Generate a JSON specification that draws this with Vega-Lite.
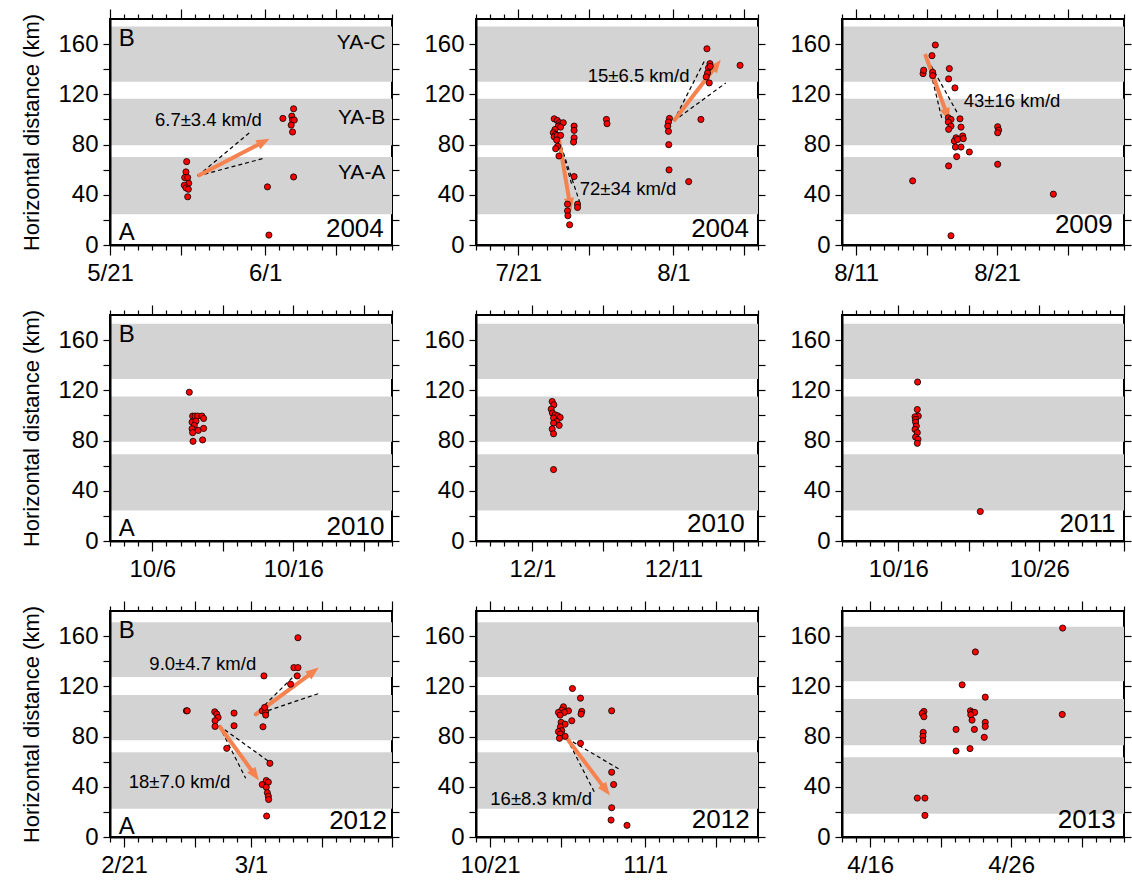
{
"$schema":"https://vega.github.io/schema/vega-lite/v6.json",
"padding":{"left":19,"top":7,"right":0,"bottom":0},
"columns":3,
"spacing":{"row":70,"column":84},
"bounds":"flush",
"config":{"view":{"stroke":"black","strokeWidth":2},"axis":{"labelFont":"Liberation Sans","labelFontSize":24,"labelColor":"black","titleFont":"Liberation Sans","titleFontSize":22,"titleFontWeight":"normal","titleColor":"black","tickColor":"#000000","tickWidth":1.2,"tickOpacity":1,"ticks":true,"domain":true,"domainColor":"black","domainWidth":2,"grid":false}},
"datasets":{
"bands":[
{"p":1,"lo":24.5,"hi":70},{"p":1,"lo":79.5,"hi":116.5},{"p":1,"lo":130,"hi":174},
{"p":2,"lo":24.5,"hi":70},{"p":2,"lo":79.5,"hi":116.5},{"p":2,"lo":130,"hi":174},
{"p":3,"lo":24.5,"hi":70},{"p":3,"lo":79.5,"hi":116.5},{"p":3,"lo":130,"hi":174},
{"p":4,"lo":24.3,"hi":69},{"p":4,"lo":79,"hi":115},{"p":4,"lo":129,"hi":173},
{"p":5,"lo":24.3,"hi":69},{"p":5,"lo":79,"hi":115},{"p":5,"lo":129,"hi":173},
{"p":6,"lo":24.3,"hi":69},{"p":6,"lo":79,"hi":115},{"p":6,"lo":129,"hi":173},
{"p":7,"lo":22.5,"hi":67.5},{"p":7,"lo":77,"hi":113},{"p":7,"lo":127.5,"hi":171},
{"p":8,"lo":22.5,"hi":67.5},{"p":8,"lo":77,"hi":113},{"p":8,"lo":127.5,"hi":171},
{"p":9,"lo":18.5,"hi":63.5},{"p":9,"lo":73,"hi":110},{"p":9,"lo":124,"hi":167.5}
],
"lines":[
{"p":1,"t1":"2004-05-27T05:20","d1":55,"t2":"2004-05-30T21:20","d2":89.4},
{"p":1,"t1":"2004-05-27T05:20","d1":55,"t2":"2004-05-31T21:20","d2":69},
{"p":2,"t1":"2004-07-23T21:10","d1":84.1,"t2":"2004-07-24T19:40","d2":47.1},
{"p":2,"t1":"2004-07-23T21:10","d1":84.1,"t2":"2004-07-25T08:40","d2":33.9},
{"p":2,"t1":"2004-08-01T00:30","d1":98.7,"t2":"2004-08-03T04:30","d2":146.3},
{"p":2,"t1":"2004-08-01T00:30","d1":98.7,"t2":"2004-08-04T17:15","d2":129.1},
{"p":3,"t1":"2009-08-16T01:55","d1":147.6,"t2":"2009-08-17T01:40","d2":101.3},
{"p":3,"t1":"2009-08-16T01:55","d1":147.6,"t2":"2009-08-18T04:50","d2":104.8},
{"p":7,"t1":"2012-03-01T06:15","d1":97.1,"t2":"2012-03-04T05:30","d2":130.2},
{"p":7,"t1":"2012-03-01T06:15","d1":97.1,"t2":"2012-03-05T19:25","d2":114.3},
{"p":7,"t1":"2012-02-27T17:45","d1":88.6,"t2":"2012-03-02T12:15","d2":58.2},
{"p":7,"t1":"2012-02-27T17:45","d1":88.6,"t2":"2012-02-29T14:55","d2":46.8},
{"p":8,"t1":"2012-10-26T10:35","d1":78.6,"t2":"2012-10-30T05:00","d2":53.7},
{"p":8,"t1":"2012-10-26T10:35","d1":78.6,"t2":"2012-10-28T09:35","d2":35.7}
],
"arrows":[
{"p":1,"id":"a","t1":"2004-05-27T05:20","d1":55,"t2":"2004-05-31T19:50","d2":81.8},
{"p":2,"id":"a","t1":"2004-07-23T21:10","d1":84.1,"t2":"2004-07-24T15:40","d2":33.1},
{"p":2,"id":"b","t1":"2004-08-01T00:30","d1":98.7,"t2":"2004-08-04T00:40","d2":142.6},
{"p":3,"id":"a","t1":"2009-08-15T21:20","d1":152.1,"t2":"2009-08-17T10:10","d2":104.5},
{"p":7,"id":"a","t1":"2012-03-01T06:15","d1":97.1,"t2":"2012-03-05T08:50","d2":131.2},
{"p":7,"id":"b","t1":"2012-02-27T17:45","d1":88.6,"t2":"2012-03-01T05:50","d2":50},
{"p":8,"id":"a","t1":"2012-10-26T10:35","d1":78.6,"t2":"2012-10-29T04:00","d2":38.1}
],
"labels":[
{"p":1,"kind":"year","t":"2004-06-09T10:00","d":12.7,"txt":"2004"},
{"p":2,"kind":"year","t":"2004-08-06T08:40","d":12.7,"txt":"2004"},
{"p":3,"kind":"year","t":"2009-08-29T04:50","d":16,"txt":"2009"},
{"p":4,"kind":"year","t":"2010-10-22T11:00","d":11,"txt":"2010"},
{"p":5,"kind":"year","t":"2010-12-16T01:30","d":13.2,"txt":"2010"},
{"p":6,"kind":"year","t":"2011-10-31T09:20","d":13.2,"txt":"2011"},
{"p":7,"kind":"year","t":"2012-03-10T15:30","d":12.7,"txt":"2012"},
{"p":8,"kind":"year","t":"2012-11-08T09:50","d":13.2,"txt":"2012"},
{"p":9,"kind":"year","t":"2013-05-03T09:50","d":13.2,"txt":"2013"},
{"p":1,"kind":"corner","t":"2004-05-21T15:00","d":164.3,"txt":"B"},
{"p":1,"kind":"corner","t":"2004-05-21T15:00","d":9.5,"txt":"A"},
{"p":4,"kind":"corner","t":"2010-10-03T15:00","d":164.1,"txt":"B"},
{"p":4,"kind":"corner","t":"2010-10-03T15:00","d":9.2,"txt":"A"},
{"p":7,"kind":"corner","t":"2012-02-20T15:00","d":164,"txt":"B"},
{"p":7,"kind":"corner","t":"2012-02-20T15:00","d":7.9,"txt":"A"},
{"p":1,"kind":"ya","t":"2004-06-09T12:45","d":160.8,"txt":"YA-C"},
{"p":1,"kind":"ya","t":"2004-06-09T12:45","d":101.3,"txt":"YA-B"},
{"p":1,"kind":"ya","t":"2004-06-09T12:45","d":57.7,"txt":"YA-A"},
{"p":1,"kind":"rate","t":"2004-05-27T23:30","d":99.5,"txt":"6.7±3.4 km/d"},
{"p":2,"kind":"rate","t":"2004-07-28T18:40","d":44.4,"txt":"72±34 km/d"},
{"p":2,"kind":"rate","t":"2004-07-29T12:45","d":134.4,"txt":"15±6.5 km/d"},
{"p":3,"kind":"rate","t":"2009-08-22T01:25","d":114.6,"txt":"43±16 km/d"},
{"p":7,"kind":"rate","t":"2012-02-26T13:55","d":138.1,"txt":"9.0±4.7 km/d"},
{"p":7,"kind":"rate","t":"2012-02-24T22:20","d":43.7,"txt":"18±7.0 km/d"},
{"p":8,"kind":"rate","t":"2012-10-24T14:55","d":30.4,"txt":"16±8.3 km/d"}
],
"pts":[
{"p":1,"t":"2004-05-26T10:30","d":66.4},{"p":1,"t":"2004-05-26T09:20","d":58.2},{"p":1,"t":"2004-05-26T07:10","d":53.7},{"p":1,"t":"2004-05-26T12:15","d":53.7},{"p":1,"t":"2004-05-26T14:00","d":49.2},{"p":1,"t":"2004-05-26T06:30","d":47.6},{"p":1,"t":"2004-05-26T09:20","d":45.5},{"p":1,"t":"2004-05-26T13:20","d":44.4},{"p":1,"t":"2004-05-26T12:15","d":38.4},{"p":1,"t":"2004-06-01T04:00","d":46.3},{"p":1,"t":"2004-06-01T06:30","d":7.9},{"p":1,"t":"2004-06-02T06:15","d":100.8},{"p":1,"t":"2004-06-03T00:30","d":108.5},{"p":1,"t":"2004-06-02T21:30","d":102.6},{"p":1,"t":"2004-06-02T22:45","d":99.5},{"p":1,"t":"2004-06-03T01:40","d":99.5},{"p":1,"t":"2004-06-02T20:25","d":95.5},{"p":1,"t":"2004-06-02T22:45","d":90},{"p":1,"t":"2004-06-03T00:30","d":54.2},
{"p":2,"t":"2004-07-23T13:10","d":100.5},{"p":2,"t":"2004-07-23T18:15","d":99.2},{"p":2,"t":"2004-07-23T21:50","d":97.4},{"p":2,"t":"2004-07-24T00:30","d":96},{"p":2,"t":"2004-07-24T04:30","d":97.4},{"p":2,"t":"2004-07-23T20:10","d":94.7},{"p":2,"t":"2004-07-24T00:00","d":93.9},{"p":2,"t":"2004-07-23T14:25","d":92},{"p":2,"t":"2004-07-23T11:30","d":89.4},{"p":2,"t":"2004-07-23T15:35","d":88.1},{"p":2,"t":"2004-07-23T13:10","d":86.2},{"p":2,"t":"2004-07-23T18:15","d":87.3},{"p":2,"t":"2004-07-24T00:00","d":87.3},{"p":2,"t":"2004-07-23T17:15","d":83.6},{"p":2,"t":"2004-07-23T19:00","d":78.6},{"p":2,"t":"2004-07-23T15:35","d":76.7},{"p":2,"t":"2004-07-23T21:10","d":70.9},{"p":2,"t":"2004-07-24T23:00","d":94.7},{"p":2,"t":"2004-07-24T23:00","d":91.3},{"p":2,"t":"2004-07-24T23:00","d":85.4},{"p":2,"t":"2004-07-24T22:05","d":82},{"p":2,"t":"2004-07-24T23:00","d":54.5},{"p":2,"t":"2004-07-24T11:45","d":32.5},{"p":2,"t":"2004-07-24T11:45","d":27.2},{"p":2,"t":"2004-07-24T12:25","d":23.3},{"p":2,"t":"2004-07-24T15:20","d":16.1},{"p":2,"t":"2004-07-25T04:50","d":32.5},{"p":2,"t":"2004-07-25T04:50","d":29.9},{"p":2,"t":"2004-07-27T06:00","d":100},{"p":2,"t":"2004-07-27T07:00","d":96.6},{"p":2,"t":"2004-07-31T17:15","d":100.8},{"p":2,"t":"2004-07-31T15:35","d":97.9},{"p":2,"t":"2004-07-31T14:25","d":94.7},{"p":2,"t":"2004-07-31T15:35","d":90.5},{"p":2,"t":"2004-07-31T16:05","d":79.9},{"p":2,"t":"2004-07-31T16:35","d":59.8},{"p":2,"t":"2004-08-02T02:00","d":50.5},{"p":2,"t":"2004-08-02T22:50","d":100},{"p":2,"t":"2004-08-03T09:05","d":156.3},{"p":2,"t":"2004-08-03T14:10","d":144.4},{"p":2,"t":"2004-08-03T11:45","d":141},{"p":2,"t":"2004-08-03T10:05","d":137},{"p":2,"t":"2004-08-03T07:55","d":133.9},{"p":2,"t":"2004-08-03T13:00","d":129.1},{"p":2,"t":"2004-08-03T14:40","d":142.3},{"p":2,"t":"2004-08-05T17:30","d":143.1},
{"p":3,"t":"2009-08-15T00:15","d":51.1},{"p":3,"t":"2009-08-15T18:00","d":136.5},{"p":3,"t":"2009-08-15T19:00","d":139.2},{"p":3,"t":"2009-08-16T09:10","d":150.8},{"p":3,"t":"2009-08-16T14:50","d":159.3},{"p":3,"t":"2009-08-16T10:20","d":137.6},{"p":3,"t":"2009-08-16T10:20","d":134.9},{"p":3,"t":"2009-08-17T14:40","d":140.5},{"p":3,"t":"2009-08-17T13:30","d":132.3},{"p":3,"t":"2009-08-18T00:15","d":125.1},{"p":3,"t":"2009-08-17T13:00","d":101.3},{"p":3,"t":"2009-08-17T17:30","d":100},{"p":3,"t":"2009-08-17T13:00","d":97.9},{"p":3,"t":"2009-08-17T17:30","d":94.7},{"p":3,"t":"2009-08-17T13:30","d":92.1},{"p":3,"t":"2009-08-18T08:50","d":100.5},{"p":3,"t":"2009-08-18T10:35","d":93.9},{"p":3,"t":"2009-08-18T02:10","d":85.4},{"p":3,"t":"2009-08-17T23:15","d":82.8},{"p":3,"t":"2009-08-18T04:50","d":84.1},{"p":3,"t":"2009-08-18T13:25","d":86.8},{"p":3,"t":"2009-08-18T14:25","d":84.7},{"p":3,"t":"2009-08-18T01:00","d":78},{"p":3,"t":"2009-08-18T10:35","d":78},{"p":3,"t":"2009-08-18T03:10","d":70.4},{"p":3,"t":"2009-08-19T00:45","d":74.1},{"p":3,"t":"2009-08-17T13:30","d":63},{"p":3,"t":"2009-08-17T17:30","d":7.4},{"p":3,"t":"2009-08-21T01:00","d":94.2},{"p":3,"t":"2009-08-21T02:40","d":91.5},{"p":3,"t":"2009-08-21T01:00","d":89.4},{"p":3,"t":"2009-08-21T01:00","d":64.3},{"p":3,"t":"2009-08-24T23:45","d":40.5},
{"p":4,"t":"2010-10-08T15:00","d":118.5},{"p":4,"t":"2010-10-08T20:40","d":99.5},{"p":4,"t":"2010-10-09T00:45","d":99.5},{"p":4,"t":"2010-10-09T05:15","d":99.5},{"p":4,"t":"2010-10-09T12:30","d":99.5},{"p":4,"t":"2010-10-09T15:20","d":97.6},{"p":4,"t":"2010-10-08T19:40","d":94.7},{"p":4,"t":"2010-10-09T02:25","d":95.5},{"p":4,"t":"2010-10-08T23:30","d":92.1},{"p":4,"t":"2010-10-08T19:40","d":89.4},{"p":4,"t":"2010-10-09T06:15","d":88.1},{"p":4,"t":"2010-10-09T15:20","d":89.7},{"p":4,"t":"2010-10-08T20:40","d":86.3},{"p":4,"t":"2010-10-08T21:20","d":79.4},{"p":4,"t":"2010-10-09T13:40","d":80.5},
{"p":5,"t":"2010-12-02T09:40","d":111.1},{"p":5,"t":"2010-12-02T12:30","d":108.5},{"p":5,"t":"2010-12-02T08:00","d":105},{"p":5,"t":"2010-12-02T10:00","d":101.9},{"p":5,"t":"2010-12-02T14:40","d":100.5},{"p":5,"t":"2010-12-02T19:15","d":99.7},{"p":5,"t":"2010-12-02T23:15","d":98.4},{"p":5,"t":"2010-12-02T12:00","d":97.9},{"p":5,"t":"2010-12-02T17:30","d":95.2},{"p":5,"t":"2010-12-02T12:00","d":93.9},{"p":5,"t":"2010-12-02T21:35","d":92.1},{"p":5,"t":"2010-12-02T09:40","d":89.2},{"p":5,"t":"2010-12-02T12:00","d":85.4},{"p":5,"t":"2010-12-02T12:00","d":56.9},
{"p":6,"t":"2011-10-17T08:40","d":126.6},{"p":6,"t":"2011-10-17T08:10","d":104.7},{"p":6,"t":"2011-10-17T09:50","d":99.5},{"p":6,"t":"2011-10-17T04:20","d":98.9},{"p":6,"t":"2011-10-17T05:00","d":96.8},{"p":6,"t":"2011-10-17T05:15","d":94.7},{"p":6,"t":"2011-10-17T06:30","d":91.6},{"p":6,"t":"2011-10-17T04:20","d":88.9},{"p":6,"t":"2011-10-17T08:10","d":86.3},{"p":6,"t":"2011-10-17T05:15","d":82.8},{"p":6,"t":"2011-10-17T09:20","d":81},{"p":6,"t":"2011-10-17T08:10","d":77.8},{"p":6,"t":"2011-10-21T19:25","d":23.5},
{"p":7,"t":"2012-02-25T10:00","d":100.5},{"p":7,"t":"2012-02-25T11:30","d":100.5},{"p":7,"t":"2012-02-27T10:20","d":99.7},{"p":7,"t":"2012-02-27T13:40","d":97.9},{"p":7,"t":"2012-02-27T16:00","d":95.2},{"p":7,"t":"2012-02-27T10:50","d":92.6},{"p":7,"t":"2012-02-27T10:50","d":88.1},{"p":7,"t":"2012-02-28T19:10","d":98.7},{"p":7,"t":"2012-02-28T19:10","d":88.6},{"p":7,"t":"2012-02-28T06:40","d":70.6},{"p":7,"t":"2012-03-01T22:05","d":128.3},{"p":7,"t":"2012-03-01T19:10","d":100.5},{"p":7,"t":"2012-03-02T01:00","d":99.7},{"p":7,"t":"2012-03-01T23:15","d":103.2},{"p":7,"t":"2012-03-02T01:00","d":97.1},{"p":7,"t":"2012-03-01T20:25","d":87.8},{"p":7,"t":"2012-03-02T08:10","d":58.7},{"p":7,"t":"2012-03-01T19:10","d":41.8},{"p":7,"t":"2012-03-02T02:00","d":45},{"p":7,"t":"2012-03-02T05:30","d":43.7},{"p":7,"t":"2012-03-02T02:00","d":39.7},{"p":7,"t":"2012-03-02T03:50","d":35.2},{"p":7,"t":"2012-03-02T05:30","d":32.5},{"p":7,"t":"2012-03-02T06:00","d":29.9},{"p":7,"t":"2012-03-02T02:40","d":16.7},{"p":7,"t":"2012-03-03T19:25","d":121.7},{"p":7,"t":"2012-03-04T01:00","d":134.9},{"p":7,"t":"2012-03-04T07:55","d":134.9},{"p":7,"t":"2012-03-04T06:40","d":128.3},{"p":7,"t":"2012-03-04T07:55","d":158.7},
{"p":8,"t":"2012-10-26T20:10","d":118.3},{"p":8,"t":"2012-10-27T09:50","d":110.6},{"p":8,"t":"2012-10-26T04:50","d":103.7},{"p":8,"t":"2012-10-26T02:00","d":101.1},{"p":8,"t":"2012-10-26T13:25","d":100.5},{"p":8,"t":"2012-10-25T20:25","d":99.2},{"p":8,"t":"2012-10-26T06:30","d":99.2},{"p":8,"t":"2012-10-25T23:15","d":97.1},{"p":8,"t":"2012-10-27T12:00","d":100},{"p":8,"t":"2012-10-27T10:50","d":97.9},{"p":8,"t":"2012-10-29T14:55","d":100.5},{"p":8,"t":"2012-10-26T19:00","d":92.6},{"p":8,"t":"2012-10-26T00:55","d":91.3},{"p":8,"t":"2012-10-26T07:40","d":89.9},{"p":8,"t":"2012-10-25T23:45","d":87.8},{"p":8,"t":"2012-10-26T02:00","d":84.7},{"p":8,"t":"2012-10-25T20:25","d":83.9},{"p":8,"t":"2012-10-25T23:45","d":82},{"p":8,"t":"2012-10-26T07:40","d":80.2},{"p":8,"t":"2012-10-25T22:05","d":78.6},{"p":8,"t":"2012-10-27T09:50","d":74.6},{"p":8,"t":"2012-10-29T14:55","d":51.6},{"p":8,"t":"2012-10-29T18:15","d":41.8},{"p":8,"t":"2012-10-29T14:55","d":23.3},{"p":8,"t":"2012-10-29T13:55","d":13.5},{"p":8,"t":"2012-10-30T17:00","d":9.3},
{"p":9,"t":"2013-04-29T15:35","d":166.4},{"p":9,"t":"2013-04-23T11:00","d":147.4},{"p":9,"t":"2013-04-22T12:30","d":121.2},{"p":9,"t":"2013-04-24T03:50","d":111.4},{"p":9,"t":"2013-04-19T19:25","d":100},{"p":9,"t":"2013-04-19T16:35","d":98.4},{"p":9,"t":"2013-04-19T19:25","d":95.8},{"p":9,"t":"2013-04-19T18:15","d":83.3},{"p":9,"t":"2013-04-19T17:45","d":80.2},{"p":9,"t":"2013-04-19T17:45","d":76.7},{"p":9,"t":"2013-04-23T02:40","d":100.5},{"p":9,"t":"2013-04-23T05:20","d":99.2},{"p":9,"t":"2013-04-23T09:50","d":99.2},{"p":9,"t":"2013-04-23T03:10","d":97.4},{"p":9,"t":"2013-04-23T05:20","d":93.1},{"p":9,"t":"2013-04-23T09:20","d":85.7},{"p":9,"t":"2013-04-22T02:10","d":85.7},{"p":9,"t":"2013-04-24T03:50","d":91.3},{"p":9,"t":"2013-04-24T03:50","d":88.1},{"p":9,"t":"2013-04-24T02:10","d":79.4},{"p":9,"t":"2013-04-22T02:10","d":68.5},{"p":9,"t":"2013-04-23T01:55","d":70.4},{"p":9,"t":"2013-04-29T14:55","d":97.6},{"p":9,"t":"2013-04-19T08:10","d":31},{"p":9,"t":"2013-04-19T21:10","d":31},{"p":9,"t":"2013-04-19T21:10","d":17.2}
]
},
"concat":[
{"width":282,"height":226,"resolve":{"axis":{"x":"independent","y":"independent"}},"layer":[
{"data":{"name":"bands"},"transform":[{"filter":"datum.p==1"}],"mark":{"type":"rect","color":"#d3d3d3"},"encoding":{"y":{"field":"lo","type":"quantitative","scale":{"domain":[0,180],"nice":false,"zero":false},"axis":{"orient":"left","title":"Horizontal distance (km)","titlePadding":14,"values":[0,20,40,60,80,100,120,140,160],"labelExpr":"datum.value % 40 == 0 ? datum.label : ''","ticks":true,"tickSize":7,"tickColor":"black","labelPadding":5,"labelFlush":false,"zindex":1}},"y2":{"field":"hi"}}},
{"data":{"name":"lines"},"transform":[{"filter":"datum.p==1"}],"mark":{"type":"rule","color":"black","strokeWidth":1.2,"strokeDash":[4,3]},"encoding":{"x":{"field":"t1","type":"temporal","axis":null},"y":{"field":"d1","type":"quantitative","axis":null},"x2":{"field":"t2"},"y2":{"field":"d2"}}},
{"data":{"name":"arrows"},"transform":[{"filter":"datum.p==1"}],"mark":{"type":"rule","color":"#f5824f","strokeWidth":4},"encoding":{"x":{"field":"t1","type":"temporal","axis":null},"y":{"field":"d1","type":"quantitative","axis":null},"x2":{"field":"t2"},"y2":{"field":"d2"}}},
{"data":{"name":"arrows"},"transform":[{"filter":"datum.p==1"}],"mark":{"type":"point","shape":"M0,-1.3L0.85,0.9L-0.85,0.9Z","filled":true,"fill":"#f5824f","strokeWidth":0,"size":144,"opacity":1},"encoding":{"x":{"field":"t2","type":"temporal","axis":null},"y":{"field":"d2","type":"quantitative","axis":null},"angle":{"value":62}}},
{"data":{"name":"pts"},"transform":[{"filter":"datum.p==1"}],"mark":{"type":"point","shape":"circle","filled":true,"fill":"#ff0000","stroke":"black","strokeWidth":0.8,"size":38,"opacity":1},"encoding":{"x":{"field":"t","type":"temporal","scale":{"domain":[{"year":2004,"month":5,"date":21},{"year":2004,"month":6,"date":10}],"nice":false},"axis":{"orient":"bottom","title":null,"tickCount":"day","labelExpr":"indexof([1,11,21], date(datum.value)) >= 0 ? timeFormat(datum.value, '%-m/%-d') : ''","ticks":true,"tickColor":"black","tickSize":{"condition":{"test":"indexof([1,6,11,16,21,26], date(datum.value)) >= 0","value":10},"value":5},"labelPadding":6,"labelFlush":false,"labelOverlap":false,"zindex":1}},"y":{"field":"d","type":"quantitative","axis":{"orient":"right","title":null,"values":[0,20,40,60,80,100,120,140,160],"labels":false,"ticks":true,"tickSize":7,"tickColor":"black","domain":false,"zindex":1}}}},
{"data":{"name":"labels"},"transform":[{"filter":"datum.p==1 && datum.kind=='year'"}],"mark":{"type":"text","align":"right","baseline":"middle","font":"Liberation Sans","fontSize":26,"color":"black"},"encoding":{"x":{"field":"t","type":"temporal","axis":{"orient":"top","title":null,"tickCount":"day","labels":false,"ticks":true,"tickColor":"black","tickSize":{"condition":{"test":"indexof([1,6,11,16,21,26], date(datum.value)) >= 0","value":10},"value":5},"domain":false,"zindex":1}},"y":{"field":"d","type":"quantitative","axis":null},"text":{"field":"txt"}}},
{"data":{"name":"labels"},"transform":[{"filter":"datum.p==1 && datum.kind=='corner'"}],"mark":{"type":"text","align":"left","baseline":"middle","font":"Liberation Sans","fontSize":24,"color":"black"},"encoding":{"x":{"field":"t","type":"temporal","axis":null},"y":{"field":"d","type":"quantitative","axis":null},"text":{"field":"txt"}}},
{"data":{"name":"labels"},"transform":[{"filter":"datum.p==1 && datum.kind=='ya'"}],"mark":{"type":"text","align":"right","baseline":"middle","font":"Liberation Sans","fontSize":21,"color":"black"},"encoding":{"x":{"field":"t","type":"temporal","axis":null},"y":{"field":"d","type":"quantitative","axis":null},"text":{"field":"txt"}}},
{"data":{"name":"labels"},"transform":[{"filter":"datum.p==1 && datum.kind=='rate'"}],"mark":{"type":"text","align":"center","baseline":"middle","font":"Liberation Sans","fontSize":18.5,"color":"black"},"encoding":{"x":{"field":"t","type":"temporal","axis":null},"y":{"field":"d","type":"quantitative","axis":null},"text":{"field":"txt"}}}
]},
{"width":282,"height":226,"resolve":{"axis":{"x":"independent","y":"independent"}},"layer":[
{"data":{"name":"bands"},"transform":[{"filter":"datum.p==2"}],"mark":{"type":"rect","color":"#d3d3d3"},"encoding":{"y":{"field":"lo","type":"quantitative","scale":{"domain":[0,180],"nice":false,"zero":false},"axis":{"orient":"left","title":null,"values":[0,20,40,60,80,100,120,140,160],"labelExpr":"datum.value % 40 == 0 ? datum.label : ''","ticks":true,"tickSize":7,"tickColor":"black","labelPadding":5,"labelFlush":false,"zindex":1}},"y2":{"field":"hi"}}},
{"data":{"name":"lines"},"transform":[{"filter":"datum.p==2"}],"mark":{"type":"rule","color":"black","strokeWidth":1.2,"strokeDash":[4,3]},"encoding":{"x":{"field":"t1","type":"temporal","axis":null},"y":{"field":"d1","type":"quantitative","axis":null},"x2":{"field":"t2"},"y2":{"field":"d2"}}},
{"data":{"name":"arrows"},"transform":[{"filter":"datum.p==2"}],"mark":{"type":"rule","color":"#f5824f","strokeWidth":4},"encoding":{"x":{"field":"t1","type":"temporal","axis":null},"y":{"field":"d1","type":"quantitative","axis":null},"x2":{"field":"t2"},"y2":{"field":"d2"}}},
{"data":{"name":"arrows"},"transform":[{"filter":"datum.p==2"}],"mark":{"type":"point","shape":"M0,-1.3L0.85,0.9L-0.85,0.9Z","filled":true,"fill":"#f5824f","strokeWidth":0,"size":144,"opacity":1},"encoding":{"x":{"field":"t2","type":"temporal","axis":null},"y":{"field":"d2","type":"quantitative","axis":null},"angle":{"condition":{"test":"datum.id=='a'","value":170},"value":37}}},
{"data":{"name":"pts"},"transform":[{"filter":"datum.p==2"}],"mark":{"type":"point","shape":"circle","filled":true,"fill":"#ff0000","stroke":"black","strokeWidth":0.8,"size":38,"opacity":1},"encoding":{"x":{"field":"t","type":"temporal","scale":{"domain":[{"year":2004,"month":7,"date":18},{"year":2004,"month":8,"date":7}],"nice":false},"axis":{"orient":"bottom","title":null,"tickCount":"day","labelExpr":"indexof([1,11,21], date(datum.value)) >= 0 ? timeFormat(datum.value, '%-m/%-d') : ''","ticks":true,"tickColor":"black","tickSize":{"condition":{"test":"indexof([1,6,11,16,21,26], date(datum.value)) >= 0","value":10},"value":5},"labelPadding":6,"labelFlush":false,"labelOverlap":false,"zindex":1}},"y":{"field":"d","type":"quantitative","axis":{"orient":"right","title":null,"values":[0,20,40,60,80,100,120,140,160],"labels":false,"ticks":true,"tickSize":7,"tickColor":"black","domain":false,"zindex":1}}}},
{"data":{"name":"labels"},"transform":[{"filter":"datum.p==2 && datum.kind=='year'"}],"mark":{"type":"text","align":"right","baseline":"middle","font":"Liberation Sans","fontSize":26,"color":"black"},"encoding":{"x":{"field":"t","type":"temporal","axis":{"orient":"top","title":null,"tickCount":"day","labels":false,"ticks":true,"tickColor":"black","tickSize":{"condition":{"test":"indexof([1,6,11,16,21,26], date(datum.value)) >= 0","value":10},"value":5},"domain":false,"zindex":1}},"y":{"field":"d","type":"quantitative","axis":null},"text":{"field":"txt"}}},
{"data":{"name":"labels"},"transform":[{"filter":"datum.p==2 && datum.kind=='rate'"}],"mark":{"type":"text","align":"center","baseline":"middle","font":"Liberation Sans","fontSize":18.5,"color":"black"},"encoding":{"x":{"field":"t","type":"temporal","axis":null},"y":{"field":"d","type":"quantitative","axis":null},"text":{"field":"txt"}}}
]},
{"width":282,"height":226,"resolve":{"axis":{"x":"independent","y":"independent"}},"layer":[
{"data":{"name":"bands"},"transform":[{"filter":"datum.p==3"}],"mark":{"type":"rect","color":"#d3d3d3"},"encoding":{"y":{"field":"lo","type":"quantitative","scale":{"domain":[0,180],"nice":false,"zero":false},"axis":{"orient":"left","title":null,"values":[0,20,40,60,80,100,120,140,160],"labelExpr":"datum.value % 40 == 0 ? datum.label : ''","ticks":true,"tickSize":7,"tickColor":"black","labelPadding":5,"labelFlush":false,"zindex":1}},"y2":{"field":"hi"}}},
{"data":{"name":"lines"},"transform":[{"filter":"datum.p==3"}],"mark":{"type":"rule","color":"black","strokeWidth":1.2,"strokeDash":[4,3]},"encoding":{"x":{"field":"t1","type":"temporal","axis":null},"y":{"field":"d1","type":"quantitative","axis":null},"x2":{"field":"t2"},"y2":{"field":"d2"}}},
{"data":{"name":"arrows"},"transform":[{"filter":"datum.p==3"}],"mark":{"type":"rule","color":"#f5824f","strokeWidth":4},"encoding":{"x":{"field":"t1","type":"temporal","axis":null},"y":{"field":"d1","type":"quantitative","axis":null},"x2":{"field":"t2"},"y2":{"field":"d2"}}},
{"data":{"name":"arrows"},"transform":[{"filter":"datum.p==3"}],"mark":{"type":"point","shape":"M0,-1.3L0.85,0.9L-0.85,0.9Z","filled":true,"fill":"#f5824f","strokeWidth":0,"size":144,"opacity":1},"encoding":{"x":{"field":"t2","type":"temporal","axis":null},"y":{"field":"d2","type":"quantitative","axis":null},"angle":{"value":160}}},
{"data":{"name":"pts"},"transform":[{"filter":"datum.p==3"}],"mark":{"type":"point","shape":"circle","filled":true,"fill":"#ff0000","stroke":"black","strokeWidth":0.8,"size":38,"opacity":1},"encoding":{"x":{"field":"t","type":"temporal","scale":{"domain":[{"year":2009,"month":8,"date":10},{"year":2009,"month":8,"date":30}],"nice":false},"axis":{"orient":"bottom","title":null,"tickCount":"day","labelExpr":"indexof([1,11,21], date(datum.value)) >= 0 ? timeFormat(datum.value, '%-m/%-d') : ''","ticks":true,"tickColor":"black","tickSize":{"condition":{"test":"indexof([1,6,11,16,21,26], date(datum.value)) >= 0","value":10},"value":5},"labelPadding":6,"labelFlush":false,"labelOverlap":false,"zindex":1}},"y":{"field":"d","type":"quantitative","axis":{"orient":"right","title":null,"values":[0,20,40,60,80,100,120,140,160],"labels":false,"ticks":true,"tickSize":7,"tickColor":"black","domain":false,"zindex":1}}}},
{"data":{"name":"labels"},"transform":[{"filter":"datum.p==3 && datum.kind=='year'"}],"mark":{"type":"text","align":"right","baseline":"middle","font":"Liberation Sans","fontSize":26,"color":"black"},"encoding":{"x":{"field":"t","type":"temporal","axis":{"orient":"top","title":null,"tickCount":"day","labels":false,"ticks":true,"tickColor":"black","tickSize":{"condition":{"test":"indexof([1,6,11,16,21,26], date(datum.value)) >= 0","value":10},"value":5},"domain":false,"zindex":1}},"y":{"field":"d","type":"quantitative","axis":null},"text":{"field":"txt"}}},
{"data":{"name":"labels"},"transform":[{"filter":"datum.p==3 && datum.kind=='rate'"}],"mark":{"type":"text","align":"center","baseline":"middle","font":"Liberation Sans","fontSize":18.5,"color":"black"},"encoding":{"x":{"field":"t","type":"temporal","axis":null},"y":{"field":"d","type":"quantitative","axis":null},"text":{"field":"txt"}}}
]},
{"width":282,"height":226,"resolve":{"axis":{"x":"independent","y":"independent"}},"layer":[
{"data":{"name":"bands"},"transform":[{"filter":"datum.p==4"}],"mark":{"type":"rect","color":"#d3d3d3"},"encoding":{"y":{"field":"lo","type":"quantitative","scale":{"domain":[0,180],"nice":false,"zero":false},"axis":{"orient":"left","title":"Horizontal distance (km)","titlePadding":14,"values":[0,20,40,60,80,100,120,140,160],"labelExpr":"datum.value % 40 == 0 ? datum.label : ''","ticks":true,"tickSize":7,"tickColor":"black","labelPadding":5,"labelFlush":false,"zindex":1}},"y2":{"field":"hi"}}},
{"data":{"name":"pts"},"transform":[{"filter":"datum.p==4"}],"mark":{"type":"point","shape":"circle","filled":true,"fill":"#ff0000","stroke":"black","strokeWidth":0.8,"size":38,"opacity":1},"encoding":{"x":{"field":"t","type":"temporal","scale":{"domain":[{"year":2010,"month":10,"date":3},{"year":2010,"month":10,"date":23}],"nice":false},"axis":{"orient":"bottom","title":null,"tickCount":"day","labelExpr":"indexof([6,16,26], date(datum.value)) >= 0 ? timeFormat(datum.value, '%-m/%-d') : ''","ticks":true,"tickColor":"black","tickSize":{"condition":{"test":"indexof([1,6,11,16,21,26], date(datum.value)) >= 0","value":10},"value":5},"labelPadding":6,"labelFlush":false,"labelOverlap":false,"zindex":1}},"y":{"field":"d","type":"quantitative","axis":{"orient":"right","title":null,"values":[0,20,40,60,80,100,120,140,160],"labels":false,"ticks":true,"tickSize":7,"tickColor":"black","domain":false,"zindex":1}}}},
{"data":{"name":"labels"},"transform":[{"filter":"datum.p==4 && datum.kind=='year'"}],"mark":{"type":"text","align":"right","baseline":"middle","font":"Liberation Sans","fontSize":26,"color":"black"},"encoding":{"x":{"field":"t","type":"temporal","axis":{"orient":"top","title":null,"tickCount":"day","labels":false,"ticks":true,"tickColor":"black","tickSize":{"condition":{"test":"indexof([1,6,11,16,21,26], date(datum.value)) >= 0","value":10},"value":5},"domain":false,"zindex":1}},"y":{"field":"d","type":"quantitative","axis":null},"text":{"field":"txt"}}},
{"data":{"name":"labels"},"transform":[{"filter":"datum.p==4 && datum.kind=='corner'"}],"mark":{"type":"text","align":"left","baseline":"middle","font":"Liberation Sans","fontSize":24,"color":"black"},"encoding":{"x":{"field":"t","type":"temporal","axis":null},"y":{"field":"d","type":"quantitative","axis":null},"text":{"field":"txt"}}}
]},
{"width":282,"height":226,"resolve":{"axis":{"x":"independent","y":"independent"}},"layer":[
{"data":{"name":"bands"},"transform":[{"filter":"datum.p==5"}],"mark":{"type":"rect","color":"#d3d3d3"},"encoding":{"y":{"field":"lo","type":"quantitative","scale":{"domain":[0,180],"nice":false,"zero":false},"axis":{"orient":"left","title":null,"values":[0,20,40,60,80,100,120,140,160],"labelExpr":"datum.value % 40 == 0 ? datum.label : ''","ticks":true,"tickSize":7,"tickColor":"black","labelPadding":5,"labelFlush":false,"zindex":1}},"y2":{"field":"hi"}}},
{"data":{"name":"pts"},"transform":[{"filter":"datum.p==5"}],"mark":{"type":"point","shape":"circle","filled":true,"fill":"#ff0000","stroke":"black","strokeWidth":0.8,"size":38,"opacity":1},"encoding":{"x":{"field":"t","type":"temporal","scale":{"domain":[{"year":2010,"month":11,"date":27},{"year":2010,"month":12,"date":17}],"nice":false},"axis":{"orient":"bottom","title":null,"tickCount":"day","labelExpr":"indexof([1,11,21], date(datum.value)) >= 0 ? timeFormat(datum.value, '%-m/%-d') : ''","ticks":true,"tickColor":"black","tickSize":{"condition":{"test":"indexof([1,6,11,16,21,26], date(datum.value)) >= 0","value":10},"value":5},"labelPadding":6,"labelFlush":false,"labelOverlap":false,"zindex":1}},"y":{"field":"d","type":"quantitative","axis":{"orient":"right","title":null,"values":[0,20,40,60,80,100,120,140,160],"labels":false,"ticks":true,"tickSize":7,"tickColor":"black","domain":false,"zindex":1}}}},
{"data":{"name":"labels"},"transform":[{"filter":"datum.p==5 && datum.kind=='year'"}],"mark":{"type":"text","align":"right","baseline":"middle","font":"Liberation Sans","fontSize":26,"color":"black"},"encoding":{"x":{"field":"t","type":"temporal","axis":{"orient":"top","title":null,"tickCount":"day","labels":false,"ticks":true,"tickColor":"black","tickSize":{"condition":{"test":"indexof([1,6,11,16,21,26], date(datum.value)) >= 0","value":10},"value":5},"domain":false,"zindex":1}},"y":{"field":"d","type":"quantitative","axis":null},"text":{"field":"txt"}}}
]},
{"width":282,"height":226,"resolve":{"axis":{"x":"independent","y":"independent"}},"layer":[
{"data":{"name":"bands"},"transform":[{"filter":"datum.p==6"}],"mark":{"type":"rect","color":"#d3d3d3"},"encoding":{"y":{"field":"lo","type":"quantitative","scale":{"domain":[0,180],"nice":false,"zero":false},"axis":{"orient":"left","title":null,"values":[0,20,40,60,80,100,120,140,160],"labelExpr":"datum.value % 40 == 0 ? datum.label : ''","ticks":true,"tickSize":7,"tickColor":"black","labelPadding":5,"labelFlush":false,"zindex":1}},"y2":{"field":"hi"}}},
{"data":{"name":"pts"},"transform":[{"filter":"datum.p==6"}],"mark":{"type":"point","shape":"circle","filled":true,"fill":"#ff0000","stroke":"black","strokeWidth":0.8,"size":38,"opacity":1},"encoding":{"x":{"field":"t","type":"temporal","scale":{"domain":[{"year":2011,"month":10,"date":12},{"year":2011,"month":11,"date":1}],"nice":false},"axis":{"orient":"bottom","title":null,"tickCount":"day","labelExpr":"indexof([6,16,26], date(datum.value)) >= 0 ? timeFormat(datum.value, '%-m/%-d') : ''","ticks":true,"tickColor":"black","tickSize":{"condition":{"test":"indexof([1,6,11,16,21,26], date(datum.value)) >= 0","value":10},"value":5},"labelPadding":6,"labelFlush":false,"labelOverlap":false,"zindex":1}},"y":{"field":"d","type":"quantitative","axis":{"orient":"right","title":null,"values":[0,20,40,60,80,100,120,140,160],"labels":false,"ticks":true,"tickSize":7,"tickColor":"black","domain":false,"zindex":1}}}},
{"data":{"name":"labels"},"transform":[{"filter":"datum.p==6 && datum.kind=='year'"}],"mark":{"type":"text","align":"right","baseline":"middle","font":"Liberation Sans","fontSize":26,"color":"black"},"encoding":{"x":{"field":"t","type":"temporal","axis":{"orient":"top","title":null,"tickCount":"day","labels":false,"ticks":true,"tickColor":"black","tickSize":{"condition":{"test":"indexof([1,6,11,16,21,26], date(datum.value)) >= 0","value":10},"value":5},"domain":false,"zindex":1}},"y":{"field":"d","type":"quantitative","axis":null},"text":{"field":"txt"}}}
]},
{"width":282,"height":226,"resolve":{"axis":{"x":"independent","y":"independent"}},"layer":[
{"data":{"name":"bands"},"transform":[{"filter":"datum.p==7"}],"mark":{"type":"rect","color":"#d3d3d3"},"encoding":{"y":{"field":"lo","type":"quantitative","scale":{"domain":[0,180],"nice":false,"zero":false},"axis":{"orient":"left","title":"Horizontal distance (km)","titlePadding":14,"values":[0,20,40,60,80,100,120,140,160],"labelExpr":"datum.value % 40 == 0 ? datum.label : ''","ticks":true,"tickSize":7,"tickColor":"black","labelPadding":5,"labelFlush":false,"zindex":1}},"y2":{"field":"hi"}}},
{"data":{"name":"lines"},"transform":[{"filter":"datum.p==7"}],"mark":{"type":"rule","color":"black","strokeWidth":1.2,"strokeDash":[4,3]},"encoding":{"x":{"field":"t1","type":"temporal","axis":null},"y":{"field":"d1","type":"quantitative","axis":null},"x2":{"field":"t2"},"y2":{"field":"d2"}}},
{"data":{"name":"arrows"},"transform":[{"filter":"datum.p==7"}],"mark":{"type":"rule","color":"#f5824f","strokeWidth":4},"encoding":{"x":{"field":"t1","type":"temporal","axis":null},"y":{"field":"d1","type":"quantitative","axis":null},"x2":{"field":"t2"},"y2":{"field":"d2"}}},
{"data":{"name":"arrows"},"transform":[{"filter":"datum.p==7"}],"mark":{"type":"point","shape":"M0,-1.3L0.85,0.9L-0.85,0.9Z","filled":true,"fill":"#f5824f","strokeWidth":0,"size":144,"opacity":1},"encoding":{"x":{"field":"t2","type":"temporal","axis":null},"y":{"field":"d2","type":"quantitative","axis":null},"angle":{"condition":{"test":"datum.id=='a'","value":53},"value":144}}},
{"data":{"name":"pts"},"transform":[{"filter":"datum.p==7"}],"mark":{"type":"point","shape":"circle","filled":true,"fill":"#ff0000","stroke":"black","strokeWidth":0.8,"size":38,"opacity":1},"encoding":{"x":{"field":"t","type":"temporal","scale":{"domain":[{"year":2012,"month":2,"date":20},{"year":2012,"month":3,"date":11}],"nice":false},"axis":{"orient":"bottom","title":null,"tickCount":"day","labelExpr":"indexof([1,21], date(datum.value)) >= 0 ? timeFormat(datum.value, '%-m/%-d') : ''","ticks":true,"tickColor":"black","tickSize":{"condition":{"test":"indexof([1,6,11,16,21,26], date(datum.value)) >= 0","value":10},"value":5},"labelPadding":6,"labelFlush":false,"labelOverlap":false,"zindex":1}},"y":{"field":"d","type":"quantitative","axis":{"orient":"right","title":null,"values":[0,20,40,60,80,100,120,140,160],"labels":false,"ticks":true,"tickSize":7,"tickColor":"black","domain":false,"zindex":1}}}},
{"data":{"name":"labels"},"transform":[{"filter":"datum.p==7 && datum.kind=='year'"}],"mark":{"type":"text","align":"right","baseline":"middle","font":"Liberation Sans","fontSize":26,"color":"black"},"encoding":{"x":{"field":"t","type":"temporal","axis":{"orient":"top","title":null,"tickCount":"day","labels":false,"ticks":true,"tickColor":"black","tickSize":{"condition":{"test":"indexof([1,6,11,16,21,26], date(datum.value)) >= 0","value":10},"value":5},"domain":false,"zindex":1}},"y":{"field":"d","type":"quantitative","axis":null},"text":{"field":"txt"}}},
{"data":{"name":"labels"},"transform":[{"filter":"datum.p==7 && datum.kind=='corner'"}],"mark":{"type":"text","align":"left","baseline":"middle","font":"Liberation Sans","fontSize":24,"color":"black"},"encoding":{"x":{"field":"t","type":"temporal","axis":null},"y":{"field":"d","type":"quantitative","axis":null},"text":{"field":"txt"}}},
{"data":{"name":"labels"},"transform":[{"filter":"datum.p==7 && datum.kind=='rate'"}],"mark":{"type":"text","align":"center","baseline":"middle","font":"Liberation Sans","fontSize":18.5,"color":"black"},"encoding":{"x":{"field":"t","type":"temporal","axis":null},"y":{"field":"d","type":"quantitative","axis":null},"text":{"field":"txt"}}}
]},
{"width":282,"height":226,"resolve":{"axis":{"x":"independent","y":"independent"}},"layer":[
{"data":{"name":"bands"},"transform":[{"filter":"datum.p==8"}],"mark":{"type":"rect","color":"#d3d3d3"},"encoding":{"y":{"field":"lo","type":"quantitative","scale":{"domain":[0,180],"nice":false,"zero":false},"axis":{"orient":"left","title":null,"values":[0,20,40,60,80,100,120,140,160],"labelExpr":"datum.value % 40 == 0 ? datum.label : ''","ticks":true,"tickSize":7,"tickColor":"black","labelPadding":5,"labelFlush":false,"zindex":1}},"y2":{"field":"hi"}}},
{"data":{"name":"lines"},"transform":[{"filter":"datum.p==8"}],"mark":{"type":"rule","color":"black","strokeWidth":1.2,"strokeDash":[4,3]},"encoding":{"x":{"field":"t1","type":"temporal","axis":null},"y":{"field":"d1","type":"quantitative","axis":null},"x2":{"field":"t2"},"y2":{"field":"d2"}}},
{"data":{"name":"arrows"},"transform":[{"filter":"datum.p==8"}],"mark":{"type":"rule","color":"#f5824f","strokeWidth":4},"encoding":{"x":{"field":"t1","type":"temporal","axis":null},"y":{"field":"d1","type":"quantitative","axis":null},"x2":{"field":"t2"},"y2":{"field":"d2"}}},
{"data":{"name":"arrows"},"transform":[{"filter":"datum.p==8"}],"mark":{"type":"point","shape":"M0,-1.3L0.85,0.9L-0.85,0.9Z","filled":true,"fill":"#f5824f","strokeWidth":0,"size":144,"opacity":1},"encoding":{"x":{"field":"t2","type":"temporal","axis":null},"y":{"field":"d2","type":"quantitative","axis":null},"angle":{"value":143}}},
{"data":{"name":"pts"},"transform":[{"filter":"datum.p==8"}],"mark":{"type":"point","shape":"circle","filled":true,"fill":"#ff0000","stroke":"black","strokeWidth":0.8,"size":38,"opacity":1},"encoding":{"x":{"field":"t","type":"temporal","scale":{"domain":[{"year":2012,"month":10,"date":20},{"year":2012,"month":11,"date":9}],"nice":false},"axis":{"orient":"bottom","title":null,"tickCount":"day","labelExpr":"indexof([1,11,21], date(datum.value)) >= 0 ? timeFormat(datum.value, '%-m/%-d') : ''","ticks":true,"tickColor":"black","tickSize":{"condition":{"test":"indexof([1,6,11,16,21,26], date(datum.value)) >= 0","value":10},"value":5},"labelPadding":6,"labelFlush":false,"labelOverlap":false,"zindex":1}},"y":{"field":"d","type":"quantitative","axis":{"orient":"right","title":null,"values":[0,20,40,60,80,100,120,140,160],"labels":false,"ticks":true,"tickSize":7,"tickColor":"black","domain":false,"zindex":1}}}},
{"data":{"name":"labels"},"transform":[{"filter":"datum.p==8 && datum.kind=='year'"}],"mark":{"type":"text","align":"right","baseline":"middle","font":"Liberation Sans","fontSize":26,"color":"black"},"encoding":{"x":{"field":"t","type":"temporal","axis":{"orient":"top","title":null,"tickCount":"day","labels":false,"ticks":true,"tickColor":"black","tickSize":{"condition":{"test":"indexof([1,6,11,16,21,26], date(datum.value)) >= 0","value":10},"value":5},"domain":false,"zindex":1}},"y":{"field":"d","type":"quantitative","axis":null},"text":{"field":"txt"}}},
{"data":{"name":"labels"},"transform":[{"filter":"datum.p==8 && datum.kind=='rate'"}],"mark":{"type":"text","align":"center","baseline":"middle","font":"Liberation Sans","fontSize":18.5,"color":"black"},"encoding":{"x":{"field":"t","type":"temporal","axis":null},"y":{"field":"d","type":"quantitative","axis":null},"text":{"field":"txt"}}}
]},
{"width":282,"height":226,"resolve":{"axis":{"x":"independent","y":"independent"}},"layer":[
{"data":{"name":"bands"},"transform":[{"filter":"datum.p==9"}],"mark":{"type":"rect","color":"#d3d3d3"},"encoding":{"y":{"field":"lo","type":"quantitative","scale":{"domain":[0,180],"nice":false,"zero":false},"axis":{"orient":"left","title":null,"values":[0,20,40,60,80,100,120,140,160],"labelExpr":"datum.value % 40 == 0 ? datum.label : ''","ticks":true,"tickSize":7,"tickColor":"black","labelPadding":5,"labelFlush":false,"zindex":1}},"y2":{"field":"hi"}}},
{"data":{"name":"pts"},"transform":[{"filter":"datum.p==9"}],"mark":{"type":"point","shape":"circle","filled":true,"fill":"#ff0000","stroke":"black","strokeWidth":0.8,"size":38,"opacity":1},"encoding":{"x":{"field":"t","type":"temporal","scale":{"domain":[{"year":2013,"month":4,"date":14},{"year":2013,"month":5,"date":4}],"nice":false},"axis":{"orient":"bottom","title":null,"tickCount":"day","labelExpr":"indexof([6,16,26], date(datum.value)) >= 0 ? timeFormat(datum.value, '%-m/%-d') : ''","ticks":true,"tickColor":"black","tickSize":{"condition":{"test":"indexof([1,6,11,16,21,26], date(datum.value)) >= 0","value":10},"value":5},"labelPadding":6,"labelFlush":false,"labelOverlap":false,"zindex":1}},"y":{"field":"d","type":"quantitative","axis":{"orient":"right","title":null,"values":[0,20,40,60,80,100,120,140,160],"labels":false,"ticks":true,"tickSize":7,"tickColor":"black","domain":false,"zindex":1}}}},
{"data":{"name":"labels"},"transform":[{"filter":"datum.p==9 && datum.kind=='year'"}],"mark":{"type":"text","align":"right","baseline":"middle","font":"Liberation Sans","fontSize":26,"color":"black"},"encoding":{"x":{"field":"t","type":"temporal","axis":{"orient":"top","title":null,"tickCount":"day","labels":false,"ticks":true,"tickColor":"black","tickSize":{"condition":{"test":"indexof([1,6,11,16,21,26], date(datum.value)) >= 0","value":10},"value":5},"domain":false,"zindex":1}},"y":{"field":"d","type":"quantitative","axis":null},"text":{"field":"txt"}}}
]}
]
}
